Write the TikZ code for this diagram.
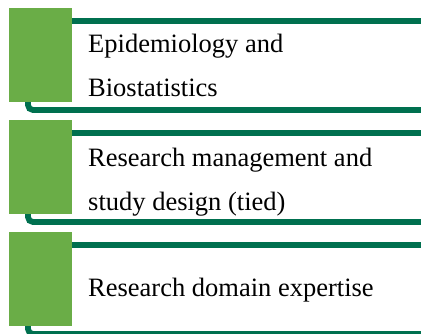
\documentclass[tikz,border=0pt]{standalone}
\usepackage{fontspec}
\setmainfont{Liberation Serif}
\definecolor{tabgreen}{HTML}{6AAD47}
\definecolor{bargreen}{HTML}{00704F}
\tikzset{
  bar/.style={draw=bargreen, line width=5.8pt},
  tab/.style={fill=tabgreen, draw=none, minimum width=63pt, minimum height=94pt, inner sep=0pt, anchor=north west},
  itemtext/.style={font=\fontsize{26.5}{44}\selectfont, inner sep=0pt, anchor=base west, align=left, text=black}
}
\begin{document}
\begin{tikzpicture}[x=1pt, y=-1pt]
  \useasboundingbox (0,0) rectangle (421,333);
  % one block per item: bracket lines first, the green tab on top of them
  \foreach \n/\t in {a/8, b/120, c/232}{
    \coordinate (start\n) at (28,\t+13);
    \coordinate (stem\n) at (28,\t+60);
    \coordinate (end\n) at (421,\t+13);
    \coordinate (endb\n) at (421,\t+102);
    \draw[bar] (start\n) -- (end\n);
    \draw[bar, rounded corners=5pt] (stem\n) |- (endb\n);
    \node[tab] (tab\n) at (9,\t) {};
  }
  \node[itemtext] (ta) at (88,96.5) {Epidemiology and\\Biostatistics};
  \node[itemtext] (tb) at (88,210) {Research management and\\study design (tied)};
  \node[itemtext] (tc) at (88,296) {Research domain expertise};
\end{tikzpicture}
\end{document}
